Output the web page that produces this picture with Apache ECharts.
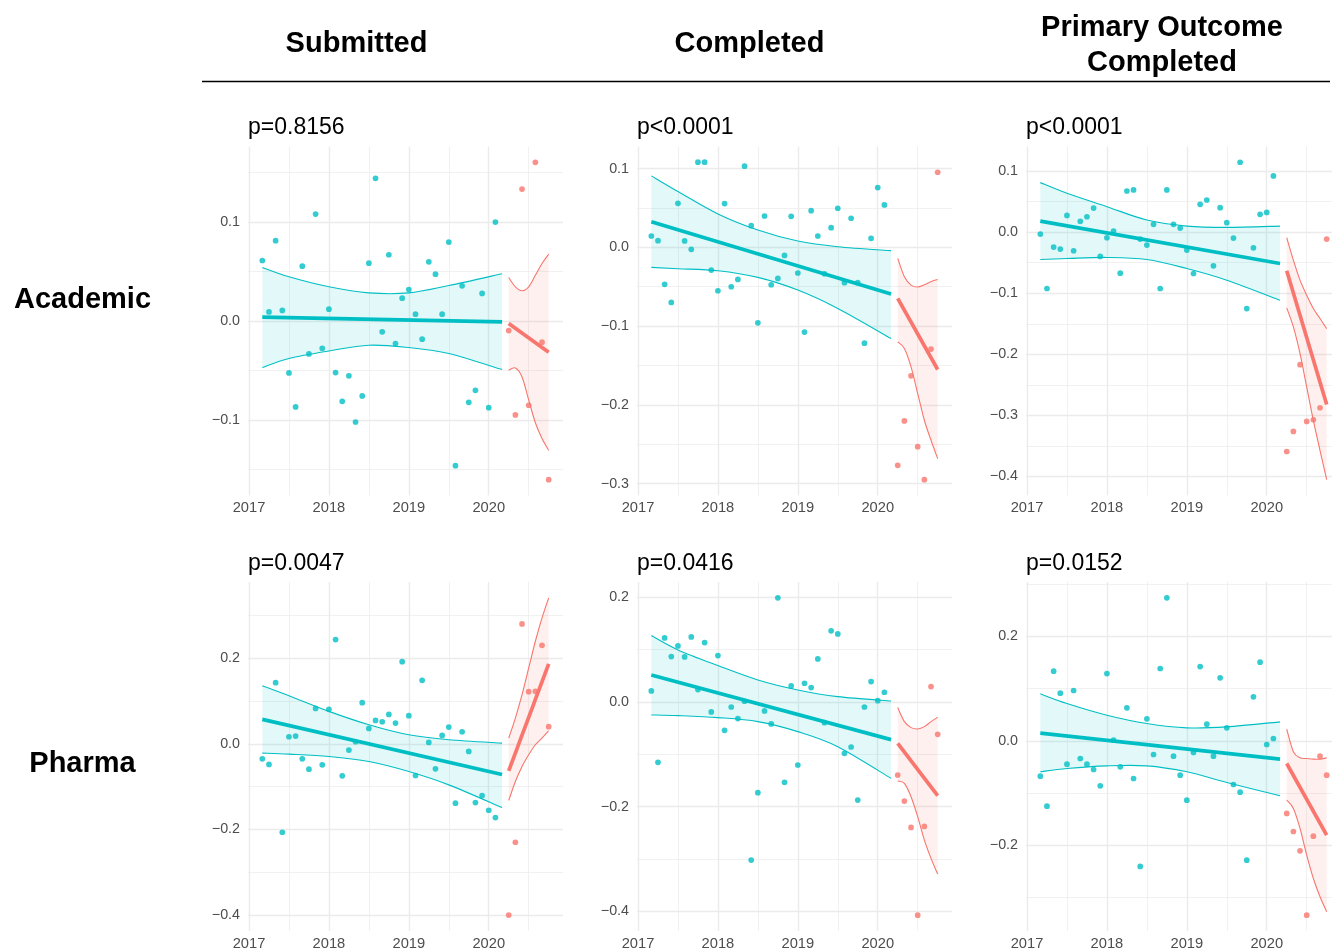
<!DOCTYPE html>
<html><head><meta charset="utf-8">
<script src="https://cdn.jsdelivr.net/npm/echarts@6/dist/echarts.min.js"></script>
<style>html,body{margin:0;padding:0;background:#fff}#chart{width:1332px;height:951px}</style>
</head><body><div id="chart"></div>
<script>
// ---------- categories / labels ----------
const columnTitles = ['Submitted', 'Completed', 'Primary Outcome\nCompleted'];
const rowTitles = ['Academic', 'Pharma'];
const pValues = ['p=0.8156', 'p<0.0001', 'p<0.0001', 'p=0.0047', 'p=0.0416', 'p=0.0152'];

const monthsBefore = ['2017-03','2017-04','2017-05','2017-06','2017-07','2017-08','2017-09','2017-10','2017-11','2017-12',
  '2018-01','2018-02','2018-03','2018-04','2018-05','2018-06','2018-07','2018-08','2018-09','2018-10','2018-11','2018-12',
  '2019-01','2019-02','2019-03','2019-04','2019-05','2019-06','2019-07','2019-08','2019-09','2019-10','2019-11','2019-12',
  '2020-01','2020-02'];
const monthsAfter = ['2020-04','2020-05','2020-06','2020-07','2020-08','2020-09','2020-10'];
const fitMonthsBefore = ['2017-03', '2020-03'];
const fitMonthsAfter = ['2020-04', '2020-10'];
const bandMonthsBefore = ['2017-03','2017-07','2018-01','2018-07','2019-01','2019-07','2020-03'];
const bandMonthsAfter = monthsAfter;

// y-axis limits and major step for each panel
const yLimits = [[-0.1765, 0.1762], [-0.315, 0.128], [-0.431, 0.140], [-0.437, 0.3776], [-0.4373, 0.229], [-0.3642, 0.3042]];
const yStep = [0.1, 0.1, 0.1, 0.2, 0.2, 0.2];
const xLimits = [2016.9875, 2020.9292];

// ---------- Panel 1: Academic / Submitted ----------
const p1Before = [0.061, 0.009, 0.081, 0.0105, -0.0526, -0.087, 0.0553, -0.0334, 0.1079, -0.0277, 0.0118, -0.0523, -0.0813, -0.0556, -0.1022, -0.0759, 0.0583, 0.144, -0.0111, 0.0668, -0.0229, 0.0229, 0.0317, 0.0067, -0.0185, 0.0597, 0.0472, 0.0067, 0.0796, -0.1464, 0.0354, -0.0823, -0.0702, 0.0277, -0.0877, 0.0998];
const p1After = [-0.0098, -0.0951, 0.1332, -0.0853, 0.1602, -0.0216, -0.1605];
const p1FitBefore = [0.0037, -0.001];
const p1FitAfter = [-0.0027, -0.0317];
const p1UpperBefore = [0.054, 0.0445, 0.0344, 0.0283, 0.0283, 0.0357, 0.0476];
const p1LowerBefore = [-0.0472, -0.038, -0.0304, -0.0246, -0.027, -0.033, -0.0492];
const p1UpperAfter = [0.0438, 0.0344, 0.0304, 0.0344, 0.046, 0.058, 0.0675];
const p1LowerAfter = [-0.0499, -0.0476, -0.0567, -0.080, -0.103, -0.119, -0.131];

// ---------- Panel 2: Academic / Completed ----------
const p2Before = [0.0144, 0.0085, -0.047, -0.0699, 0.0559, 0.0081, -0.0025, 0.1081, 0.1081, -0.0288, -0.0551, 0.0555, -0.05, -0.0407, 0.103, 0.0275, -0.0958, 0.0398, -0.0475, -0.0394, -0.0102, 0.0394, -0.0326, -0.1076, 0.0466, 0.0144, -0.0335, 0.025, 0.0496, -0.0449, 0.0369, -0.0449, -0.1216, 0.0114, 0.0758, 0.0538];
const p2After = [-0.2767, -0.2203, -0.1631, -0.253, -0.2949, -0.1292, 0.0953];
const p2FitBefore = [0.0326, -0.0593];
const p2FitAfter = [-0.0648, -0.1551];
const p2UpperBefore = [0.0907, 0.0708, 0.0424, 0.022, 0.008, 0.0008, -0.0042];
const p2LowerBefore = [-0.0254, -0.0271, -0.0297, -0.0381, -0.0542, -0.0775, -0.1157];
const p2UpperAfter = [-0.014, -0.0373, -0.0479, -0.0504, -0.0475, -0.0436, -0.0407];
const p2LowerAfter = [-0.12, -0.1284, -0.1517, -0.1856, -0.2195, -0.2449, -0.2682];

// ---------- Panel 3: Academic / Primary Outcome Completed ----------
const p3Before = [-0.0033, -0.0923, -0.0246, -0.0279, 0.0273, -0.0306, 0.0175, 0.0251, 0.0393, -0.0399, -0.0093, 0.0016, -0.0672, 0.0672, 0.0689, -0.0115, -0.0213, 0.0126, -0.0923, 0.0689, 0.0126, 0.0066, -0.0295, -0.0678, 0.0454, 0.0525, -0.0552, 0.0399, 0.0153, -0.0098, 0.1142, -0.1251, -0.0257, 0.029, 0.0322, 0.0918];
const p3After = [-0.359, -0.3262, -0.2169, -0.3098, -0.3071, -0.2874, -0.0115];
const p3FitBefore = [0.018, -0.0514];
const p3FitAfter = [-0.0634, -0.282];
const p3UpperBefore = [0.0809, 0.0634, 0.0415, 0.0197, 0.0098, 0.0077, 0.0098];
const p3LowerBefore = [-0.0448, -0.0432, -0.0415, -0.0448, -0.0596, -0.0787, -0.1115];
const p3UpperAfter = [-0.0093, -0.0459, -0.0787, -0.1033, -0.1251, -0.1415, -0.1579];
const p3LowerAfter = [-0.124, -0.1552, -0.1989, -0.2536, -0.3082, -0.3574, -0.4049];

// ---------- Panel 4: Pharma / Submitted ----------
const p4Before = [-0.0351, -0.0483, 0.1426, -0.2065, 0.0164, 0.0179, -0.0351, -0.0592, 0.0826, -0.0491, 0.0803, 0.2432, -0.0748, -0.0148, 0.0047, 0.0959, 0.0359, 0.0546, 0.0514, 0.0686, 0.0483, 0.1917, 0.0655, -0.074, 0.1481, 0.0031, -0.0585, 0.0195, 0.039, -0.1387, 0.0281, -0.0179, -0.1372, -0.1208, -0.1551, -0.1723];
const p4After = [-0.3998, -0.2299, 0.2798, 0.1216, 0.1224, 0.2299, 0.0398];
const p4FitBefore = [0.0569, -0.0717];
const p4FitAfter = [-0.0631, 0.1863];
const p4UpperBefore = [0.1356, 0.1122, 0.0756, 0.0444, 0.021, 0.0094, 0.0016];
const p4LowerBefore = [-0.0218, -0.0242, -0.0296, -0.0413, -0.0647, -0.0959, -0.1489];
const p4UpperAfter = [0.0133, 0.06, 0.1146, 0.1769, 0.2393, 0.2938, 0.3406];
const p4LowerAfter = [-0.1325, -0.0881, -0.053, -0.0257, -0.0023, 0.0133, 0.0304];

// ---------- Panel 5: Pharma / Completed ----------
const p5Before = [0.021, -0.1153, 0.1223, 0.0866, 0.107, 0.086, 0.1242, 0.0236, 0.1134, -0.0191, 0.0885, -0.0541, -0.0096, -0.0318, 0.0013, -0.3019, -0.1732, -0.0172, -0.042, 0.1987, -0.1535, 0.0306, -0.1204, 0.0357, 0.0274, 0.0822, -0.0395, 0.1357, 0.1299, -0.0981, -0.086, -0.1873, -0.0096, 0.0389, 0.0025, 0.0185];
const p5After = [-0.1395, -0.1892, -0.2395, -0.407, -0.2376, 0.0293, -0.0618];
const p5FitBefore = [0.0516, -0.072];
const p5FitAfter = [-0.079, -0.179];
const p5UpperBefore = [0.1268, 0.0994, 0.0694, 0.042, 0.0229, 0.0102, 0.0019];
const p5LowerBefore = [-0.0248, -0.0261, -0.0299, -0.0376, -0.0567, -0.0854, -0.1459];
const p5UpperAfter = [-0.0108, -0.0376, -0.049, -0.0516, -0.0471, -0.0376, -0.0293];
const p5LowerAfter = [-0.151, -0.1554, -0.1809, -0.2191, -0.2637, -0.2987, -0.3287];

// ---------- Panel 6: Pharma / Primary Outcome Completed ----------
const p6Before = [-0.0676, -0.1251, 0.1334, 0.0913, -0.0447, 0.0964, -0.0338, -0.0447, -0.0549, -0.0862, 0.1289, 0.0013, -0.0498, 0.0632, -0.0721, -0.2406, 0.0421, -0.0262, 0.1385, 0.2738, -0.0294, -0.0657, -0.1136, -0.0223, 0.1423, 0.0319, -0.0294, 0.1206, 0.0249, -0.0836, -0.0983, -0.2285, 0.0842, 0.1506, -0.007, 0.0045];
const p6After = [-0.1391, -0.1736, -0.2106, -0.3338, -0.1825, -0.0294, -0.0657];
const p6FitBefore = [0.0147, -0.0351];
const p6FitAfter = [-0.0434, -0.1806];
const p6UpperBefore = [0.09, 0.0715, 0.0491, 0.0332, 0.0249, 0.0268, 0.0364];
const p6LowerBefore = [-0.0593, -0.0529, -0.0479, -0.0479, -0.0593, -0.0798, -0.1053];
const p6UpperAfter = [0.0223, -0.0211, -0.0325, -0.0338, -0.0351, -0.0351, -0.0325];
const p6LowerAfter = [-0.1136, -0.1295, -0.1678, -0.2189, -0.2636, -0.2987, -0.3274];

const panels = [
  {before: p1Before, after: p1After, fitB: p1FitBefore, fitA: p1FitAfter, upB: p1UpperBefore, loB: p1LowerBefore, upA: p1UpperAfter, loA: p1LowerAfter},
  {before: p2Before, after: p2After, fitB: p2FitBefore, fitA: p2FitAfter, upB: p2UpperBefore, loB: p2LowerBefore, upA: p2UpperAfter, loA: p2LowerAfter},
  {before: p3Before, after: p3After, fitB: p3FitBefore, fitA: p3FitAfter, upB: p3UpperBefore, loB: p3LowerBefore, upA: p3UpperAfter, loA: p3LowerAfter},
  {before: p4Before, after: p4After, fitB: p4FitBefore, fitA: p4FitAfter, upB: p4UpperBefore, loB: p4LowerBefore, upA: p4UpperAfter, loA: p4LowerAfter},
  {before: p5Before, after: p5After, fitB: p5FitBefore, fitA: p5FitAfter, upB: p5UpperBefore, loB: p5LowerBefore, upA: p5UpperAfter, loA: p5LowerAfter},
  {before: p6Before, after: p6After, fitB: p6FitBefore, fitA: p6FitAfter, upB: p6UpperBefore, loB: p6LowerBefore, upA: p6UpperAfter, loA: p6LowerAfter}
];

// ---------- styling / layout ----------
const FONT = '"Liberation Sans", Arial, Helvetica, sans-serif';
const TEAL = '#00BFC4', RED = '#F8766D';
const TEAL_FILL = 'rgba(0,191,196,0.11)', RED_FILL = 'rgba(248,118,109,0.11)';
const GRID = '#EBEBEB', AXIS_TEXT = '#4D4D4D';
const colLeft = [248, 637, 1026], rowTop = [146.5, 582], panelW = 315, panelH = 349;
const colCenter = [356.5, 749.5, 1162];
const headerY = [44, 44, 45];
const rowCenter = [300, 764];
const pRowY = [128, 563.5];

function toYear(s) { const [y, m] = s.split('-').map(Number); return y + (m - 1) / 12; }
function pairs(months, vals) { return months.map((m, k) => [toYear(m), vals[k]]); }
function yFmt(v) { if (Math.abs(v) < 1e-9) return '0.0'; return v.toFixed(1).replace('-', '\u2212'); }

// Catmull-Rom style smooth segments through pixel points (after the first point)
function segs(pts) {
  let d = '';
  for (let k = 0; k < pts.length - 1; k++) {
    const p0 = pts[k - 1] || pts[k], p1 = pts[k], p2 = pts[k + 1], p3 = pts[k + 2] || pts[k + 1];
    const c1 = [p1[0] + (p2[0] - p0[0]) / 6, p1[1] + (p2[1] - p0[1]) / 6];
    const c2 = [p2[0] - (p3[0] - p1[0]) / 6, p2[1] - (p3[1] - p1[1]) / 6];
    d += ' C' + c1[0] + ',' + c1[1] + ' ' + c2[0] + ',' + c2[1] + ' ' + p2[0] + ',' + p2[1];
  }
  return d;
}
function bandSeries(i, months, lo, up, fill, stroke) {
  const upPairs = pairs(months, up), loPairs = pairs(months, lo);
  return {
    type: 'custom', coordinateSystem: 'cartesian2d', xAxisIndex: i, yAxisIndex: i,
    data: [[upPairs[0][0], up[0]]], silent: true, animation: false, clip: true, z: 1,
    renderItem: function (params, api) {
      const u = upPairs.map(p => api.coord(p));
      const l = loPairs.map(p => api.coord(p));
      const lr = l.slice().reverse();
      const upD = 'M' + u[0][0] + ',' + u[0][1] + segs(u);
      const loD = 'M' + l[0][0] + ',' + l[0][1] + segs(l);
      const fillD = upD + ' L' + lr[0][0] + ',' + lr[0][1] + segs(lr) + ' Z';
      return {type: 'group', children: [
        {type: 'path', shape: {pathData: fillD}, style: {fill: fill, stroke: null}},
        {type: 'path', shape: {pathData: upD}, style: {fill: null, stroke: stroke, lineWidth: 1.1}},
        {type: 'path', shape: {pathData: loD}, style: {fill: null, stroke: stroke, lineWidth: 1.1}}
      ]};
    }
  };
}

const grids = [], xAxes = [], yAxes = [], series = [], titles = [];

panels.forEach((p, i) => {
  const r = Math.floor(i / 3), c = i % 3;
  grids.push({left: colLeft[c], top: rowTop[r], width: panelW, height: panelH, containLabel: false, outerBoundsMode: 'none'});
  xAxes.push({
    type: 'value', gridIndex: i, min: xLimits[0], max: xLimits[1], splitNumber: 4, minInterval: 1, maxInterval: 1,
    axisLine: {show: false}, axisTick: {show: false},
    axisLabel: {show: true, showMinLabel: false, showMaxLabel: false, color: AXIS_TEXT, fontSize: 14.7, fontFamily: FONT, margin: 5,
      formatter: v => String(Math.round(v))},
    splitLine: {show: true, showMinLine: false, showMaxLine: false, lineStyle: {color: GRID, width: 1.4}},
    minorTick: {show: false, splitNumber: 2},
    minorSplitLine: {show: true, lineStyle: {color: GRID, width: 0.7}}
  });
  yAxes.push({
    type: 'value', gridIndex: i, min: yLimits[i][0], max: yLimits[i][1], splitNumber: 4,
    minInterval: yStep[i], maxInterval: yStep[i],
    axisLine: {show: false}, axisTick: {show: false},
    axisLabel: {show: true, showMinLabel: false, showMaxLabel: false, color: AXIS_TEXT, fontSize: 14.3, fontFamily: FONT, margin: 8,
      formatter: yFmt},
    splitLine: {show: true, showMinLine: false, showMaxLine: false, lineStyle: {color: GRID, width: 1.4}},
    minorTick: {show: false, splitNumber: 2},
    minorSplitLine: {show: true, lineStyle: {color: GRID, width: 0.7}}
  });

  const base = {xAxisIndex: i, yAxisIndex: i, silent: true, animation: false};
  // confidence bands with their edge lines
  series.push(bandSeries(i, bandMonthsBefore, p.loB, p.upB, TEAL_FILL, TEAL));
  series.push(bandSeries(i, bandMonthsAfter, p.loA, p.upA, RED_FILL, RED));
  // points
  series.push(Object.assign({}, base, {type: 'scatter', data: pairs(monthsBefore, p.before), symbolSize: 5.7, itemStyle: {color: TEAL}, z: 3}));
  series.push(Object.assign({}, base, {type: 'scatter', data: pairs(monthsAfter, p.after), symbolSize: 5.7, itemStyle: {color: RED}, z: 3}));
  // fitted lines
  series.push(Object.assign({}, base, {type: 'line', data: pairs(fitMonthsBefore, p.fitB), symbol: 'none', lineStyle: {color: TEAL, width: 3.7, cap: 'butt'}, z: 4}));
  series.push(Object.assign({}, base, {type: 'line', data: pairs(fitMonthsAfter, p.fitA), symbol: 'none', lineStyle: {color: RED, width: 3.7, cap: 'butt'}, z: 4}));

  titles.push({text: pValues[i], left: colLeft[c], top: pRowY[r], textVerticalAlign: 'middle', padding: 0,
    textStyle: {fontFamily: FONT, fontSize: 23, fontWeight: 'normal', color: '#000'}});
});

columnTitles.forEach((t, c) => {
  titles.push({text: t, left: colCenter[c], top: headerY[c], textAlign: 'center', textVerticalAlign: 'middle', padding: 0,
    textStyle: {fontFamily: FONT, fontSize: 29, fontWeight: 'bold', color: '#000', lineHeight: 35, align: 'center'}});
});
rowTitles.forEach((t, r) => {
  titles.push({text: t, left: 82.5, top: rowCenter[r], textAlign: 'center', textVerticalAlign: 'middle', padding: 0,
    textStyle: {fontFamily: FONT, fontSize: 29, fontWeight: 'bold', color: '#000'}});
});

const chart = echarts.init(document.getElementById('chart'), null, {renderer: 'canvas'});
chart.setOption({
  backgroundColor: '#fff',
  animation: false,
  title: titles,
  grid: grids,
  xAxis: xAxes,
  yAxis: yAxes,
  series: series,
  graphic: [{type: 'line', shape: {x1: 202, y1: 81.5, x2: 1330, y2: 81.5}, style: {stroke: '#000', lineWidth: 1.4}, silent: true}]
});
</script>
</body></html>
